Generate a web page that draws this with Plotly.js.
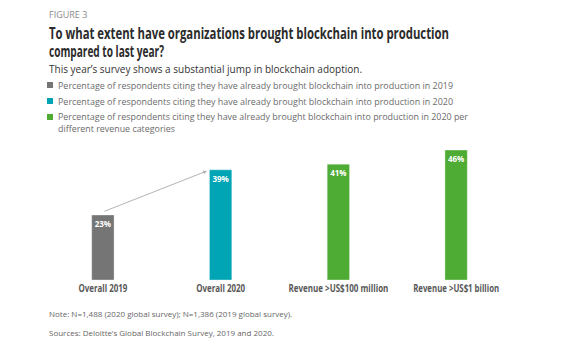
<!DOCTYPE html>
<html>
<head>
<meta charset="utf-8">
<script src="https://cdn.plot.ly/plotly-3.0.1.min.js"></script>
<style>html,body{margin:0;padding:0;background:#fff;}#chart{width:563px;height:347px;}</style>
</head>
<body>
<div id="chart"></div>
<script>
// ---- data ----
const categories = ["Overall 2019", "Overall 2020", "Revenue >US$100 million", "Revenue >US$1 billion"];
const values = [23, 39, 41, 46];
const seriesIndex = [0, 1, 2, 2];
const seriesNames = [
  "Percentage of respondents citing they have already brought blockchain into production in 2019",
  "Percentage of respondents citing they have already brought blockchain into production in 2020",
  "Percentage of respondents citing they have already brought blockchain into production in 2020 per",
];
const seriesNameCont = "different revenue categories";
const seriesColors = ["#757575", "#00a5b5", "#4eab33"];
const figureLabel = "FIGURE 3";
const titleLines = ["To what extent have organizations brought blockchain into production", "compared to last year?"];
const subtitle = "This year\u2019s survey shows a substantial jump in blockchain adoption.";
const noteLines = ["Note: N=1,488 (2020 global survey); N=1,386 (2019 global survey).", "Sources: Deloitte\u2019s Global Blockchain Survey, 2019 and 2020."];

const body = "'Open Sans', 'Noto Sans', sans-serif";

const traces = [];
for (let s = 0; s < seriesNames.length; s++) {
  const xs = [], ys = [], txt = [];
  categories.forEach((c, i) => { if (seriesIndex[i] === s) { xs.push(c); ys.push(values[i]); txt.push(values[i] + "%"); } });
  traces.push({
    type: "bar", x: xs, y: ys, text: txt, name: seriesNames[s],
    marker: { color: seriesColors[s], line: { color: "rgba(255,255,255,0.35)", width: 1 } },
    width: 0.19,
    textposition: "inside", insidetextanchor: "end", textangle: 0,
    textfont: { family: body, size: 10, color: "#ffffff", weight: 700 },
    cliponaxis: false, hoverinfo: "skip", showlegend: false
  });
}

const layout = {
  width: 563, height: 347,
  margin: { l: 44, r: 47.5, t: 140, b: 67 },
  paper_bgcolor: "#fff", plot_bgcolor: "#fff",
  xaxis: { type: "category", range: [-0.5, 3.5], showgrid: false, zeroline: false, showline: false, ticks: "",
           tickangle: 0, automargin: false,
           tickfont: { family: body, size: 11, color: "#585858", weight: 700 }, categoryarray: categories, categoryorder: "array" },
  yaxis: { range: [0, 49.54], visible: false, fixedrange: true },
  showlegend: false,
  annotations: [],
  shapes: []
};

const pl = layout.margin.l, pw = 563 - layout.margin.l - layout.margin.r;
const ptop = layout.margin.t, ph = 347 - layout.margin.t - layout.margin.b;
const px = (x) => (x - pl) / pw;
const py = (y) => (ptop + ph - y) / ph;

const fitWidths = {}; // annotation index -> target width in px
function txt(x, y, text, size, color, weight, fitW) {
  if (fitW) fitWidths[layout.annotations.length] = fitW;
  layout.annotations.push({ xref: "paper", yref: "paper", x: px(x), y: py(y), xanchor: "left", yanchor: "middle",
    text: text, showarrow: false, align: "left", font: { family: body, size: size, color: color, weight: weight || 400 } });
}
txt(47, 14, figureLabel, 9, "#8a8a8a");
txt(47, 33, titleLines[0], 16, "#2b2b2b", 700, 400);
txt(47, 51, titleLines[1], 16, "#2b2b2b", 700, 115);
txt(47, 69, subtitle, 10, "#333333");
const legendY = [85, 101, 117];
seriesNames.forEach((n, i) => {
  layout.shapes.push({ type: "rect", xref: "paper", yref: "paper", x0: px(47), x1: px(53), y0: py(legendY[i] + 3), y1: py(legendY[i] - 3),
    fillcolor: seriesColors[i], line: { width: 0 } });
  txt(56, legendY[i], n, 9.3, "#6b6b6b", 400, i === 2 ? 410 : 395);
});
txt(56, 128, seriesNameCont, 9.3, "#6b6b6b", 400, 117);
txt(47, 313, noteLines[0], 8, "#666666");
txt(47, 332, noteLines[1], 8, "#666666");

// arrow from top of the 2019 bar to the 2020 bar
layout.annotations.push({ xref: "x", yref: "y", axref: "x", ayref: "y",
  x: 0.885, y: values[1] - 0.4, ax: 0, ay: values[0] + 1.1,
  text: "", showarrow: true, arrowhead: 2, arrowsize: 0.8, arrowwidth: 1, arrowcolor: "#b5b5b5", standoff: 0, startstandoff: 0 });

const tickWidths = [49, 49, 100, 86];

Plotly.newPlot("chart", traces, layout, { displayModeBar: false, staticPlot: true }).then(() => {
  const gd = document.getElementById("chart");
  gd.querySelectorAll("g.annotation").forEach((g) => {
    const idx = +g.getAttribute("data-index");
    if (fitWidths[idx]) {
      const t = g.querySelector("text.annotation-text");
      if (t) { t.setAttribute("textLength", fitWidths[idx]); t.setAttribute("lengthAdjust", "spacingAndGlyphs"); }
    }
  });
  gd.querySelectorAll("g.xtick text").forEach((t, i) => {
    t.setAttribute("textLength", tickWidths[i]); t.setAttribute("lengthAdjust", "spacingAndGlyphs");
  });
});
</script>
</body>
</html>
